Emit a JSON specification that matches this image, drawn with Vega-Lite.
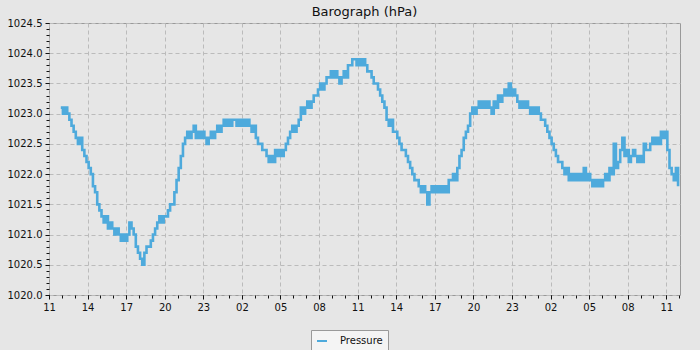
{
  "$schema": "https://vega.github.io/schema/vega-lite/v6.json",
  "autosize": "none",
  "width": 631,
  "height": 272,
  "padding": {"left": 49, "top": 23, "right": 20, "bottom": 55},
  "background": "#e6e6e6",
  "title": {"text": "Barograph (hPa)", "fontSize": 13, "fontWeight": "normal", "font": "DejaVu Sans", "color": "#111111", "offset": -1, "baseline": "top"},
  "config": {
    "view": {"stroke": "#999999", "strokeWidth": 1, "fill": "#e6e6e6"},
    "axis": {"labelFont": "DejaVu Sans", "labelFontSize": 10, "labelColor": "#111111", "tickColor": "#111111", "domain": false, "title": null}
  },
  "datasets": {
    "baro": [
      {"m":55,"p":1023.1},
      {"m":65,"p":1023.0},{"m":75,"p":1023.1},{"m":85,"p":1023.0},{"m":95,"p":1022.9},{"m":105,"p":1022.8},{"m":115,"p":1022.7},
      {"m":125,"p":1022.6},{"m":135,"p":1022.5},{"m":145,"p":1022.6},{"m":155,"p":1022.4},{"m":165,"p":1022.3},{"m":175,"p":1022.2},
      {"m":185,"p":1022.1},{"m":195,"p":1022.0},{"m":205,"p":1021.8},{"m":215,"p":1021.7},{"m":225,"p":1021.5},{"m":235,"p":1021.4},
      {"m":245,"p":1021.3},{"m":255,"p":1021.2},{"m":265,"p":1021.3},{"m":275,"p":1021.1},{"m":285,"p":1021.2},{"m":295,"p":1021.1},
      {"m":305,"p":1021.0},{"m":315,"p":1021.1},{"m":325,"p":1021.0},{"m":335,"p":1020.9},{"m":345,"p":1021.0},{"m":355,"p":1020.9},
      {"m":365,"p":1021.0},{"m":375,"p":1021.2},{"m":385,"p":1021.1},{"m":395,"p":1021.0},{"m":405,"p":1020.8},{"m":415,"p":1020.7},
      {"m":425,"p":1020.6},{"m":435,"p":1020.5},{"m":445,"p":1020.7},{"m":455,"p":1020.8},{"m":465,"p":1020.8},{"m":475,"p":1020.9},
      {"m":485,"p":1021.0},{"m":495,"p":1021.1},{"m":505,"p":1021.2},{"m":515,"p":1021.3},{"m":525,"p":1021.2},{"m":535,"p":1021.3},
      {"m":545,"p":1021.3},{"m":555,"p":1021.4},{"m":565,"p":1021.5},{"m":575,"p":1021.5},{"m":585,"p":1021.7},{"m":595,"p":1021.9},
      {"m":605,"p":1022.1},{"m":615,"p":1022.3},{"m":625,"p":1022.5},{"m":635,"p":1022.6},{"m":645,"p":1022.7},{"m":655,"p":1022.6},
      {"m":665,"p":1022.7},{"m":675,"p":1022.8},{"m":685,"p":1022.6},{"m":695,"p":1022.7},{"m":705,"p":1022.6},{"m":715,"p":1022.7},
      {"m":725,"p":1022.6},{"m":735,"p":1022.5},{"m":745,"p":1022.6},{"m":755,"p":1022.7},{"m":765,"p":1022.6},{"m":775,"p":1022.7},
      {"m":785,"p":1022.8},{"m":795,"p":1022.7},{"m":805,"p":1022.8},{"m":815,"p":1022.9},{"m":825,"p":1022.8},{"m":835,"p":1022.9},
      {"m":845,"p":1022.8},{"m":855,"p":1022.9},{"m":865,"p":1022.9},{"m":875,"p":1022.8},{"m":885,"p":1022.9},{"m":895,"p":1022.8},
      {"m":905,"p":1022.9},{"m":915,"p":1022.8},{"m":925,"p":1022.9},{"m":935,"p":1022.8},{"m":945,"p":1022.7},{"m":955,"p":1022.8},
      {"m":965,"p":1022.6},{"m":975,"p":1022.5},{"m":985,"p":1022.5},{"m":995,"p":1022.4},{"m":1005,"p":1022.4},{"m":1015,"p":1022.3},
      {"m":1025,"p":1022.2},{"m":1035,"p":1022.3},{"m":1045,"p":1022.2},{"m":1055,"p":1022.4},{"m":1065,"p":1022.3},{"m":1075,"p":1022.4},
      {"m":1085,"p":1022.3},{"m":1095,"p":1022.4},{"m":1105,"p":1022.5},{"m":1115,"p":1022.6},{"m":1125,"p":1022.7},{"m":1135,"p":1022.8},
      {"m":1145,"p":1022.7},{"m":1155,"p":1022.8},{"m":1165,"p":1022.9},{"m":1175,"p":1023.1},{"m":1185,"p":1023.0},{"m":1195,"p":1023.1},
      {"m":1205,"p":1023.2},{"m":1215,"p":1023.1},{"m":1225,"p":1023.2},{"m":1235,"p":1023.3},{"m":1245,"p":1023.3},{"m":1255,"p":1023.4},
      {"m":1265,"p":1023.5},{"m":1275,"p":1023.4},{"m":1285,"p":1023.5},{"m":1295,"p":1023.6},{"m":1305,"p":1023.6},{"m":1315,"p":1023.7},
      {"m":1325,"p":1023.6},{"m":1335,"p":1023.7},{"m":1345,"p":1023.6},{"m":1355,"p":1023.5},{"m":1365,"p":1023.6},{"m":1375,"p":1023.7},
      {"m":1385,"p":1023.6},{"m":1395,"p":1023.8},{"m":1405,"p":1023.8},{"m":1415,"p":1023.9},{"m":1425,"p":1023.9},{"m":1435,"p":1023.8},
      {"m":1445,"p":1023.9},{"m":1455,"p":1023.8},{"m":1465,"p":1023.9},{"m":1475,"p":1023.8},{"m":1485,"p":1023.7},{"m":1495,"p":1023.7},
      {"m":1505,"p":1023.6},{"m":1515,"p":1023.5},{"m":1525,"p":1023.5},{"m":1535,"p":1023.4},{"m":1545,"p":1023.3},{"m":1555,"p":1023.2},
      {"m":1565,"p":1023.1},{"m":1575,"p":1022.9},{"m":1585,"p":1022.8},{"m":1595,"p":1022.9},{"m":1605,"p":1022.7},{"m":1615,"p":1022.7},
      {"m":1625,"p":1022.6},{"m":1635,"p":1022.5},{"m":1645,"p":1022.4},{"m":1655,"p":1022.4},{"m":1665,"p":1022.3},{"m":1675,"p":1022.2},
      {"m":1685,"p":1022.1},{"m":1695,"p":1022.0},{"m":1705,"p":1021.9},{"m":1715,"p":1021.9},{"m":1725,"p":1021.8},{"m":1735,"p":1021.7},
      {"m":1745,"p":1021.8},{"m":1755,"p":1021.7},{"m":1765,"p":1021.5},{"m":1775,"p":1021.7},{"m":1785,"p":1021.8},{"m":1795,"p":1021.7},
      {"m":1805,"p":1021.8},{"m":1815,"p":1021.7},{"m":1825,"p":1021.8},{"m":1835,"p":1021.7},{"m":1845,"p":1021.8},{"m":1855,"p":1021.7},
      {"m":1865,"p":1021.9},{"m":1875,"p":1021.9},{"m":1885,"p":1022.0},{"m":1895,"p":1021.9},{"m":1905,"p":1022.1},{"m":1915,"p":1022.3},
      {"m":1925,"p":1022.4},{"m":1935,"p":1022.6},{"m":1945,"p":1022.7},{"m":1955,"p":1022.8},{"m":1965,"p":1023.0},{"m":1975,"p":1023.1},
      {"m":1985,"p":1023.0},{"m":1995,"p":1023.1},{"m":2005,"p":1023.2},{"m":2015,"p":1023.1},{"m":2025,"p":1023.2},{"m":2035,"p":1023.1},
      {"m":2045,"p":1023.2},{"m":2055,"p":1023.1},{"m":2065,"p":1023.0},{"m":2075,"p":1023.2},{"m":2085,"p":1023.1},{"m":2095,"p":1023.3},
      {"m":2105,"p":1023.2},{"m":2115,"p":1023.3},{"m":2125,"p":1023.4},{"m":2135,"p":1023.3},{"m":2145,"p":1023.5},{"m":2155,"p":1023.3},
      {"m":2165,"p":1023.4},{"m":2175,"p":1023.3},{"m":2185,"p":1023.2},{"m":2195,"p":1023.1},{"m":2205,"p":1023.2},{"m":2215,"p":1023.1},
      {"m":2225,"p":1023.2},{"m":2235,"p":1023.1},{"m":2245,"p":1023.0},{"m":2255,"p":1023.1},{"m":2265,"p":1023.0},{"m":2275,"p":1023.1},
      {"m":2285,"p":1023.0},{"m":2295,"p":1022.9},{"m":2305,"p":1022.9},{"m":2315,"p":1022.8},{"m":2325,"p":1022.7},{"m":2335,"p":1022.6},
      {"m":2345,"p":1022.5},{"m":2355,"p":1022.4},{"m":2365,"p":1022.3},{"m":2375,"p":1022.2},{"m":2385,"p":1022.2},{"m":2395,"p":1022.1},
      {"m":2405,"p":1022.0},{"m":2415,"p":1022.1},{"m":2425,"p":1021.9},{"m":2435,"p":1022.0},{"m":2445,"p":1021.9},{"m":2455,"p":1022.0},
      {"m":2465,"p":1021.9},{"m":2475,"p":1022.0},{"m":2485,"p":1021.9},{"m":2495,"p":1022.1},{"m":2505,"p":1021.9},{"m":2515,"p":1022.0},
      {"m":2525,"p":1021.9},{"m":2535,"p":1021.8},{"m":2545,"p":1021.9},{"m":2555,"p":1021.8},{"m":2565,"p":1021.9},{"m":2575,"p":1021.8},
      {"m":2585,"p":1021.9},{"m":2595,"p":1022.0},{"m":2605,"p":1021.9},{"m":2615,"p":1022.1},{"m":2625,"p":1022.0},{"m":2635,"p":1022.5},
      {"m":2645,"p":1022.1},{"m":2655,"p":1022.2},{"m":2665,"p":1022.4},{"m":2675,"p":1022.6},{"m":2685,"p":1022.3},{"m":2695,"p":1022.4},
      {"m":2705,"p":1022.2},{"m":2715,"p":1022.3},{"m":2725,"p":1022.4},{"m":2735,"p":1022.3},{"m":2745,"p":1022.2},{"m":2755,"p":1022.3},
      {"m":2765,"p":1022.2},{"m":2775,"p":1022.5},{"m":2785,"p":1022.4},{"m":2795,"p":1022.4},{"m":2805,"p":1022.5},{"m":2815,"p":1022.6},
      {"m":2825,"p":1022.5},{"m":2835,"p":1022.6},{"m":2845,"p":1022.5},{"m":2855,"p":1022.7},{"m":2865,"p":1022.6},{"m":2875,"p":1022.7},
      {"m":2885,"p":1022.4},{"m":2895,"p":1022.1},{"m":2905,"p":1022.0},{"m":2915,"p":1021.9},{"m":2925,"p":1022.1},{"m":2935,"p":1021.8}
    ]
  },
  "data": {"name": "baro"},
  "resolve": {"axis": {"x": "independent", "y": "independent"}},
  "layer": [
    {
      "mark": {"type": "point", "opacity": 0},
      "encoding": {
        "x": {"field": "m", "type": "quantitative", "scale": {"domain": [0, 2944], "nice": false, "zero": false},
          "axis": {"orient": "bottom", "values": [0,60,120,180,240,300,360,420,480,540,600,660,720,780,840,900,960,1020,1080,1140,1200,1260,1320,1380,1440,1500,1560,1620,1680,1740,1800,1860,1920,1980,2040,2100,2160,2220,2280,2340,2400,2460,2520,2580,2640,2700,2760,2820,2880,2940], "labels": false, "grid": false, "tickSize": 3}},
        "y": {"field": "p", "type": "quantitative", "scale": {"domain": [1020, 1024.5], "nice": false, "zero": false},
          "axis": {"orient": "left", "values": [1020.0,1020.1,1020.2,1020.3,1020.4,1020.5,1020.6,1020.7,1020.8,1020.9,1021.0,1021.1,1021.2,1021.3,1021.4,1021.5,1021.6,1021.7,1021.8,1021.9,1022.0,1022.1,1022.2,1022.3,1022.4,1022.5,1022.6,1022.7,1022.8,1022.9,1023.0,1023.1,1023.2,1023.3,1023.4,1023.5,1023.6,1023.7,1023.8,1023.9,1024.0,1024.1,1024.2,1024.3,1024.4,1024.5], "labels": false, "grid": false, "tickSize": 3}}
      }
    },
    {
      "mark": {"type": "line", "interpolate": "step-after", "strokeWidth": 2.6},
      "encoding": {
        "x": {"field": "m", "type": "quantitative", "scale": {"domain": [0, 2944], "nice": false, "zero": false},
          "axis": {"orient": "bottom", "values": [0,180,360,540,720,900,1080,1260,1440,1620,1800,1980,2160,2340,2520,2700,2880],
            "labelExpr": "(((datum.value/60)+11)%24 < 10 ? '0' : '') + (((datum.value/60)+11)%24)",
            "tickSize": 4, "labelPadding": 3, "grid": true, "gridColor": "#bbbbbb", "gridDash": [4, 3], "labelFlush": false}},
        "y": {"field": "p", "type": "quantitative", "scale": {"domain": [1020, 1024.5], "nice": false, "zero": false},
          "axis": {"orient": "left", "values": [1020.0,1020.5,1021.0,1021.5,1022.0,1022.5,1023.0,1023.5,1024.0,1024.5], "format": ".1f",
            "tickSize": 4, "labelPadding": 3, "grid": true, "gridColor": "#bbbbbb", "gridDash": [4, 3]}},
        "color": {"datum": "Pressure", "type": "nominal", "scale": {"range": ["#4eaadc"]},
          "legend": {"title": null, "orient": "none", "legendX": 262, "legendY": 307, "padding": 5, "strokeColor": "#999999", "fillColor": "#f4f4f4",
            "symbolType": "stroke", "symbolSize": 100, "symbolStrokeWidth": 2, "labelFont": "DejaVu Sans", "labelFontSize": 10, "labelColor": "#111111", "labelOffset": 12, "cornerRadius": 0}}
      }
    }
  ]
}
